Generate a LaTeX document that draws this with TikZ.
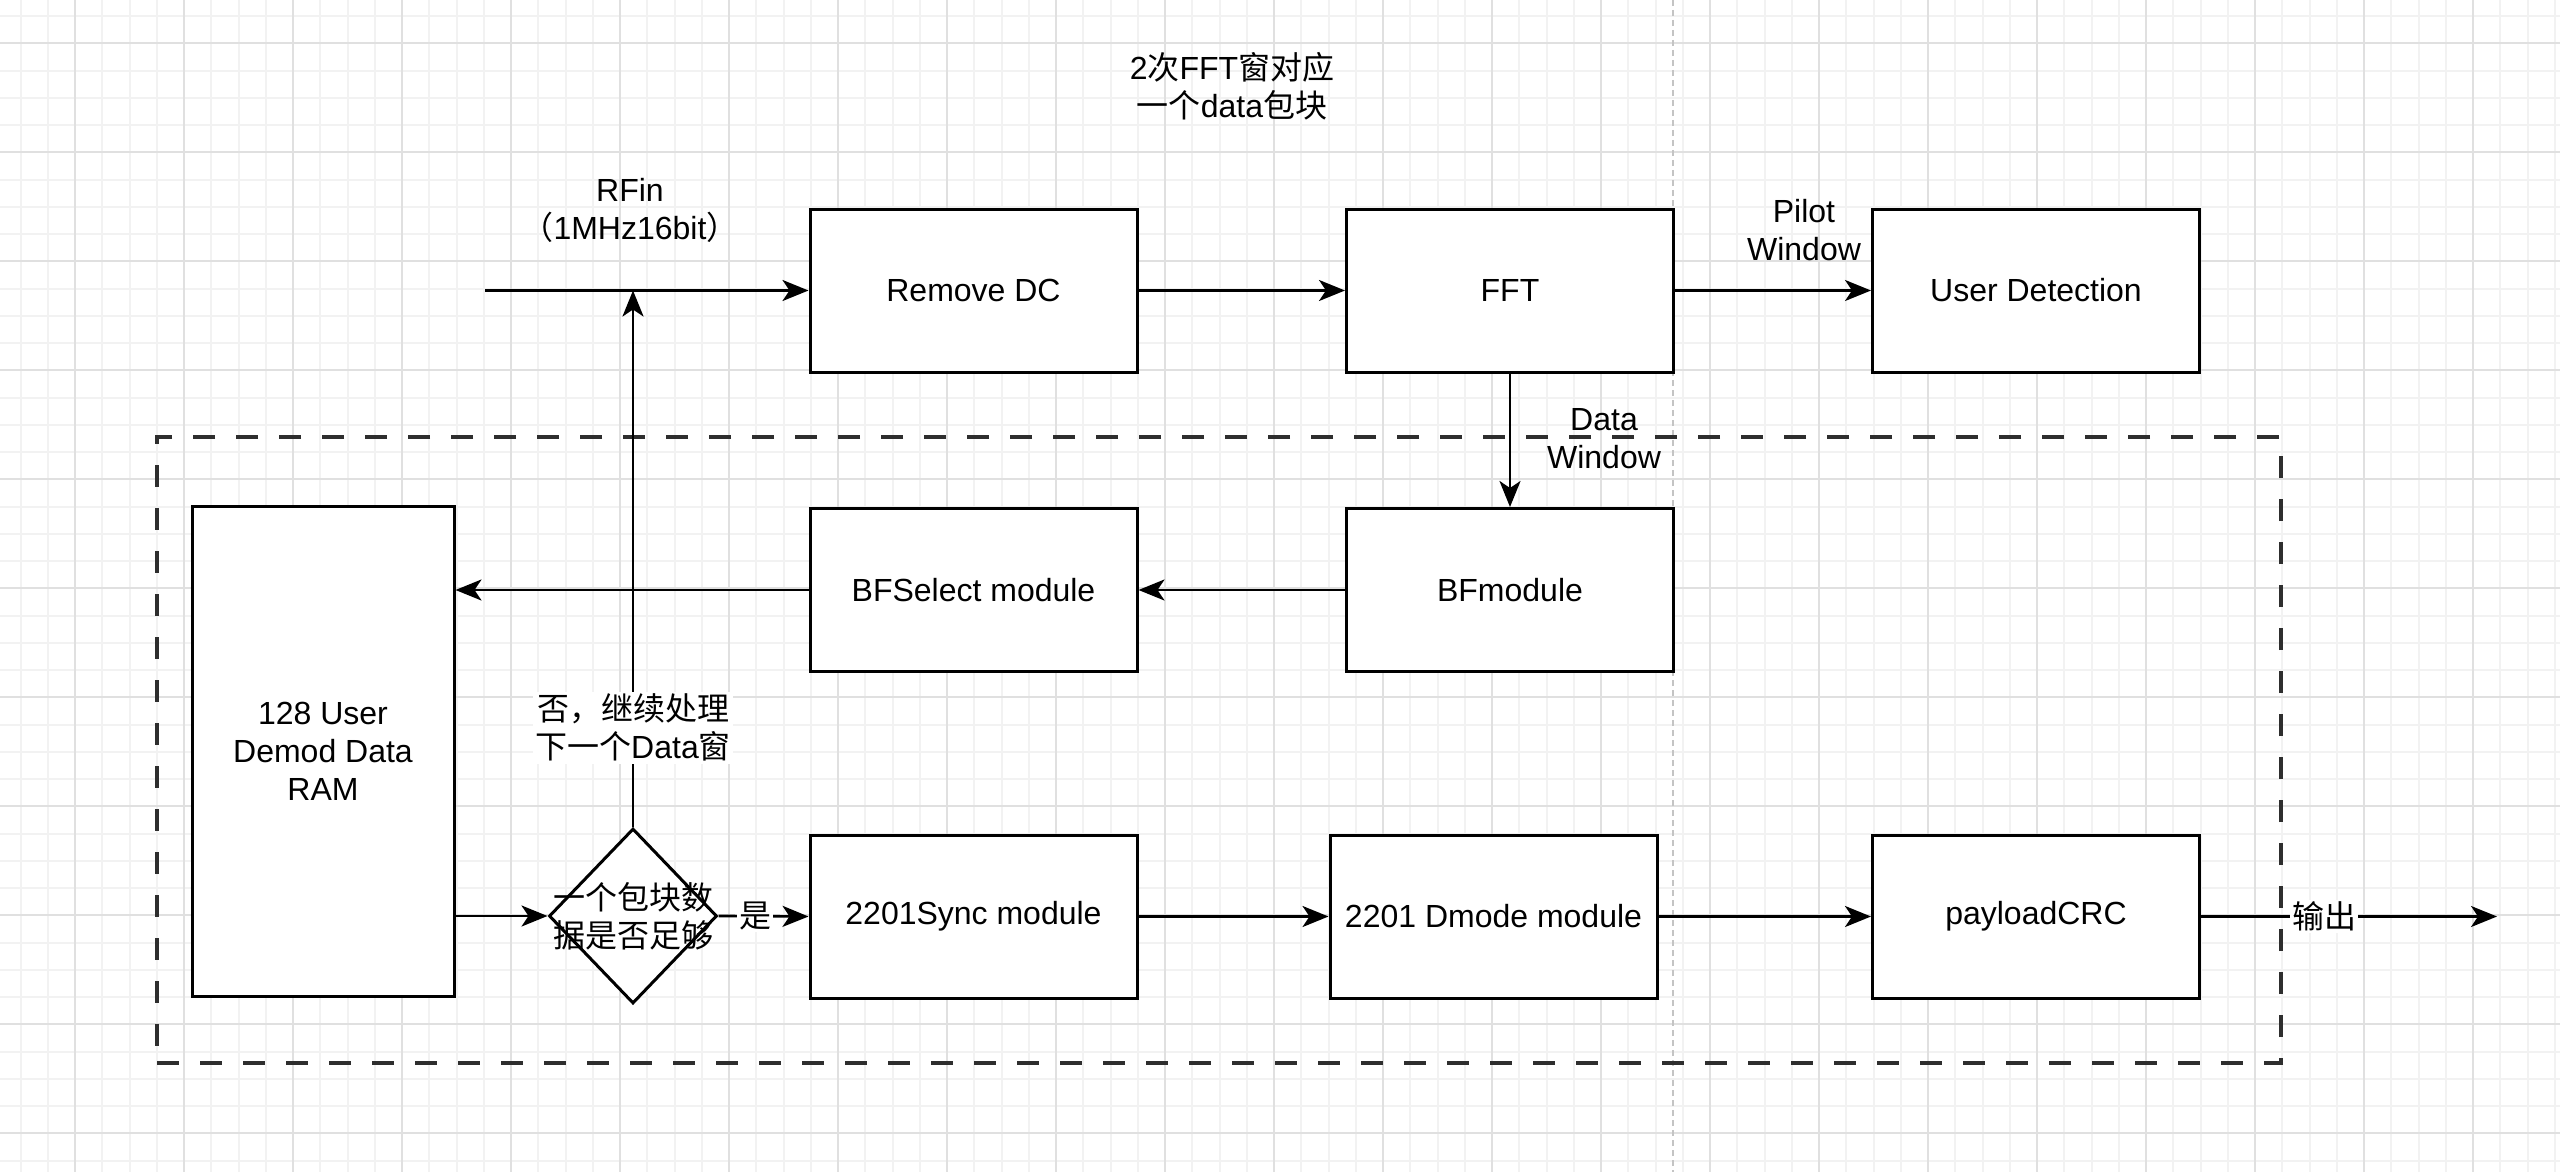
\documentclass[tikz,border=0pt]{standalone}
\usepackage{fontspec}
\setmainfont{Liberation Sans}
\newfontfamily\cjk{Noto Sans CJK SC}
\usetikzlibrary{arrows.meta,shapes.geometric}
\definecolor{gmajor}{HTML}{E0E0E0}
\definecolor{gminor}{HTML}{F2F2F2}
\definecolor{dashc}{HTML}{2E2E2E}
\definecolor{pagec}{HTML}{C4C4C4}
\begin{document}
\begin{tikzpicture}[x=0.5pt,y=-0.5pt,
  font=\fontsize{16pt}{19pt}\selectfont,
  blk/.style={draw, line width=1.5pt, fill=white, minimum width=163.5pt, minimum height=81.5pt, inner sep=0pt, align=center},
  conn/.style={line width=1.35pt, -{Stealth[length=13pt,width=10.5pt,inset=3.5pt]}},
  lbl/.style={align=center, inner sep=1pt},
  lblw/.style={lbl, fill=white},
  gline/.style={line width=1pt},
]
\fill[white] (0,0) rectangle (2560,1172);
\useasboundingbox (0,0) rectangle (2560,1172);
% grid
\foreach \k in {-2,...,91} \draw[gline, gminor] ({75+27.25*\k},0) -- ({75+27.25*\k},1172);
\foreach \k in {-1,...,41} \draw[gline, gminor] (0,{43.3+27.25*\k}) -- (2560,{43.3+27.25*\k});
\foreach \k in {0,...,22} \draw[gline, gmajor] ({75+109*\k},0) -- ({75+109*\k},1172);
\foreach \k in {0,...,10} \draw[gline, gmajor] (0,{43.3+109*\k}) -- (2560,{43.3+109*\k});
% page break line
\draw[pagec, line width=1.2pt, dash pattern=on 3pt off 2pt] (1672.7,0) -- (1672.7,1172);
% dashed group
\node[draw=dashc, line width=1.6pt, dash pattern=on 11pt off 10.5pt, minimum width=1062pt, minimum height=313pt, inner sep=0pt] (grp) at (1219,750) {};
% blocks
\node[blk] (rd) at (973.5,290.5) {Remove DC};
\node[blk] (fft) at (1510,290.5) {FFT};
\node[blk] (ud) at (2036,290.5) {User Detection};
\node[blk] (bf) at (1510,590) {BFmodule};
\node[blk] (bfs) at (973.5,590) {BFSelect module};
\node[blk, minimum width=131pt, minimum height=245pt] (ram) at (323,751) {128 User\\Demod Data\\RAM};
\node[draw, diamond, line width=1.5pt, fill=white, minimum width=84pt, minimum height=87.5pt, inner sep=0pt] (dia) at (633,916) {};
\node[lbl] (diat) at (633,916) {\cjk 一个包块数\\\cjk 据是否足够};
\node[blk] (sync) at (973.5,916.5) {2201Sync module};
\node[blk] (dm) at (1493.5,916.5) {2201 Dmode module};
\node[blk] (pay) at (2036,916.5) {payloadCRC};
\coordinate (in) at (485,290.5);
\coordinate (out) at (2497,916.5);
% free labels
\node[lbl] (title) at (1232,86) {2{\cjk 次}FFT{\cjk 窗对应}\\{\cjk 一个}data{\cjk 包块}};
\node[lbl] (rfin) at (630,210) {RFin\\{\cjk （}1MHz16bit{\cjk ）}};
\node[lbl] (pilot) at (1804,230) {Pilot\\Window};
\node[lbl] (dataw) at (1604,439) {Data\\Window};
% connectors
\draw[conn] (in) -- (rd.west);
\draw[conn] (rd) -- (fft);
\draw[conn] (fft) -- (ud);
\draw[conn] (fft) -- (bf);
\draw[conn] (bf) -- (bfs);
\draw[conn] (bfs.west) -- (bfs.west -| ram.east);
\draw[conn] (dia.west -| ram.east) -- (dia.west);
\draw[conn] (dia.north) -- (dia.north |- in) node[lblw, pos=0.185] (no) {{\cjk 否，继续处理}\\{\cjk 下一个}Data{\cjk 窗}};
\draw[conn] (dia.east) -- (sync.west) node[lblw, pos=0.41] (yes) {\cjk 是};
\draw[conn] (sync) -- (dm);
\draw[conn] (dm) -- (pay);
\draw[conn] (pay.east) -- (out) node[lblw, pos=0.416] (outl) {\cjk 输出};
\end{tikzpicture}
\end{document}
